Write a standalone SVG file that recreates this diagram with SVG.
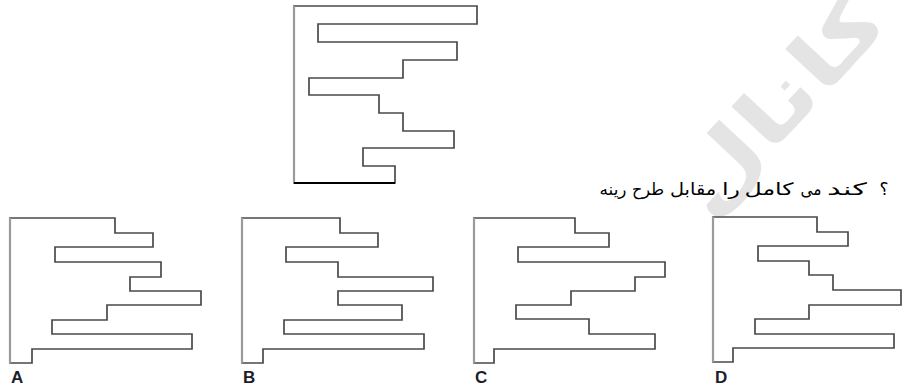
<svg xmlns="http://www.w3.org/2000/svg" width="902" height="387" viewBox="0 0 902 387">
<style>
.fig{fill:none;stroke:#4a4a4a;stroke-width:1.7;stroke-linejoin:miter}
.edge{stroke:#9a9a9a;stroke-width:2.2}
.lbl{font-family:"Liberation Sans",Arial,sans-serif;font-size:17px;font-weight:bold;fill:#1e1e2a}
.q{font-family:"DejaVu Sans","Noto Sans",sans-serif;font-size:17px;fill:#000;text-anchor:middle}
.wm{font-family:"DejaVu Sans",sans-serif;font-size:80px;font-weight:bold;fill:#e4e4e4;text-anchor:middle}
</style>
<rect width="902" height="387" fill="#fff"/>
<g id="watermark">
<text class="wm" transform="translate(800,122) rotate(-47)" x="0" y="0" textLength="270" lengthAdjust="spacingAndGlyphs">کانال</text>
</g>
<g id="question">
<text class="q" x="613" y="195" textLength="27" lengthAdjust="spacingAndGlyphs">رینه</text>
<text class="q" x="648" y="195" textLength="32" lengthAdjust="spacingAndGlyphs">طرح</text>
<text class="q" x="693" y="195" textLength="46" lengthAdjust="spacingAndGlyphs">مقابل</text>
<text class="q" x="731" y="195" textLength="18" lengthAdjust="spacingAndGlyphs">را</text>
<text class="q" x="769" y="195" textLength="49" lengthAdjust="spacingAndGlyphs">کامل</text>
<text class="q" x="811" y="195" textLength="21" lengthAdjust="spacingAndGlyphs">می</text>
<text class="q" x="847" y="195" textLength="40" lengthAdjust="spacingAndGlyphs">کند</text>
<text class="q" x="884" y="195">؟</text>
</g>
<g id="pattern">
<polygon class="fig" points="294,6 477,6 477,24 318,24 318,42 457,42 457,60 403,60 403,78 309,78 309,95 379,95 379,113 403,113 403,131 454,131 454,148 363,148 363,166 395,166 395,183 294,183"/>
<line class="edge" x1="294" y1="6" x2="294" y2="183"/>
<line x1="294" y1="183" x2="395" y2="183" stroke="#000" stroke-width="2"/>
</g>
<g id="optionA">
<polygon class="fig" points="10,218 115,218 115,233 153,233 153,247 55,247 55,262 161,262 161,277 130,277 130,291 201,291 201,305 107,305 107,320 52,320 52,334 192,334 192,349 32,349 32,363 10,363"/>
<line class="edge" x1="10" y1="218" x2="10" y2="363"/>
<text class="lbl" x="11" y="383">A</text>
</g>
<g id="optionB">
<polygon class="fig" points="242,218 340,218 340,233 378,233 378,247 286,247 286,262 338,262 338,277 433,277 433,291 338,291 338,305 402,305 402,320 284,320 284,334 424,334 424,349 263,349 263,363 242,363"/>
<line class="edge" x1="242" y1="218" x2="242" y2="363"/>
<text class="lbl" x="243" y="383">B</text>
</g>
<g id="optionC">
<polygon class="fig" points="474,218 575,218 575,233 609,233 609,247 518,247 518,262 665,262 665,277 635,277 635,291 571,291 571,305 516,305 516,319 589,319 589,334 655,334 655,349 494,349 494,363 474,363"/>
<line class="edge" x1="474" y1="218" x2="474" y2="363"/>
<text class="lbl" x="475" y="383">C</text>
</g>
<g id="optionD">
<polygon class="fig" points="713,217 817,217 817,232 848,232 848,246 758,246 758,261 809,261 809,275 833,275 833,290 901,290 901,305 809,305 809,319 755,319 755,334 894,334 894,348 733,348 733,362 713,362"/>
<line class="edge" x1="713" y1="217" x2="713" y2="362"/>
<text class="lbl" x="715" y="383">D</text>
</g>
</svg>
